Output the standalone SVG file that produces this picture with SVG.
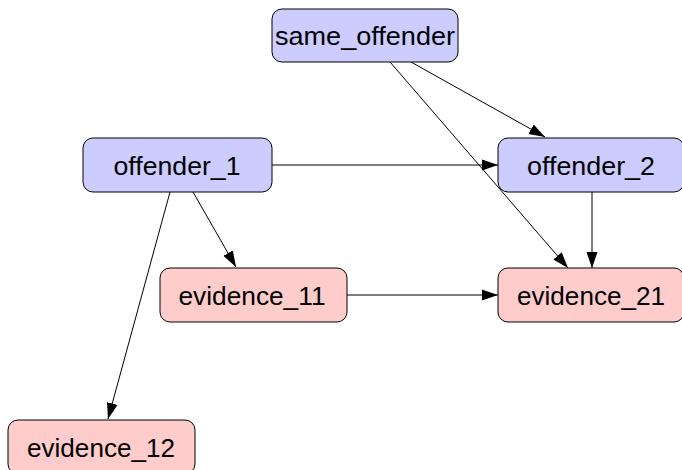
<svg xmlns="http://www.w3.org/2000/svg" width="682" height="470" viewBox="0 0 682 470">
  <style>
    .node rect { stroke: #000; stroke-width: 1; }
    .offender rect { fill: #ccccff; }
    .evidence rect { fill: #ffcccc; }
    .node text { font-family: "Liberation Sans", "DejaVu Sans", sans-serif; font-size: 25px; fill: #000; text-anchor: middle; }
    .edges path { fill: none; stroke: #000; stroke-width: 1; marker-end: url(#arrow); }
  </style>
  <defs>
    <marker id="arrow" viewBox="0 0 16 12" refX="16" refY="6" markerWidth="16" markerHeight="12" markerUnits="userSpaceOnUse" orient="auto">
      <path d="M0,0.5 L16,6 L0,11.5 Z" fill="#000"/>
    </marker>
  </defs>

  <g class="edges">
    <path d="M411,62 L545,137"/>
    <path d="M390,62 L568,268"/>
    <path d="M272,165 L498,165"/>
    <path d="M193,192 L236,267"/>
    <path d="M170,192 L108,419"/>
    <path d="M592,192 L592,268"/>
    <path d="M347,295 L498,295"/>
  </g>

  <g id="same_offender" class="node offender">
    <rect x="272" y="9" width="186" height="53" rx="10"/>
    <text x="365" y="45" textLength="180" lengthAdjust="spacingAndGlyphs">same_offender</text>
  </g>
  <g id="offender_1" class="node offender">
    <rect x="83" y="138" width="189" height="54" rx="10"/>
    <text x="177" y="175" textLength="127" lengthAdjust="spacingAndGlyphs">offender_1</text>
  </g>
  <g id="offender_2" class="node offender">
    <rect x="498" y="138" width="186" height="54" rx="10"/>
    <text x="591" y="175" textLength="128" lengthAdjust="spacingAndGlyphs">offender_2</text>
  </g>
  <g id="evidence_11" class="node evidence">
    <rect x="160" y="268" width="187" height="54" rx="10"/>
    <text x="252" y="305" textLength="147" lengthAdjust="spacingAndGlyphs">evidence_11</text>
  </g>
  <g id="evidence_21" class="node evidence">
    <rect x="498" y="268" width="186" height="54" rx="10"/>
    <text x="591" y="305" textLength="148" lengthAdjust="spacingAndGlyphs">evidence_21</text>
  </g>
  <g id="evidence_12" class="node evidence">
    <rect x="8" y="420" width="187" height="54" rx="10"/>
    <text x="101" y="457" textLength="148" lengthAdjust="spacingAndGlyphs">evidence_12</text>
  </g>
</svg>
